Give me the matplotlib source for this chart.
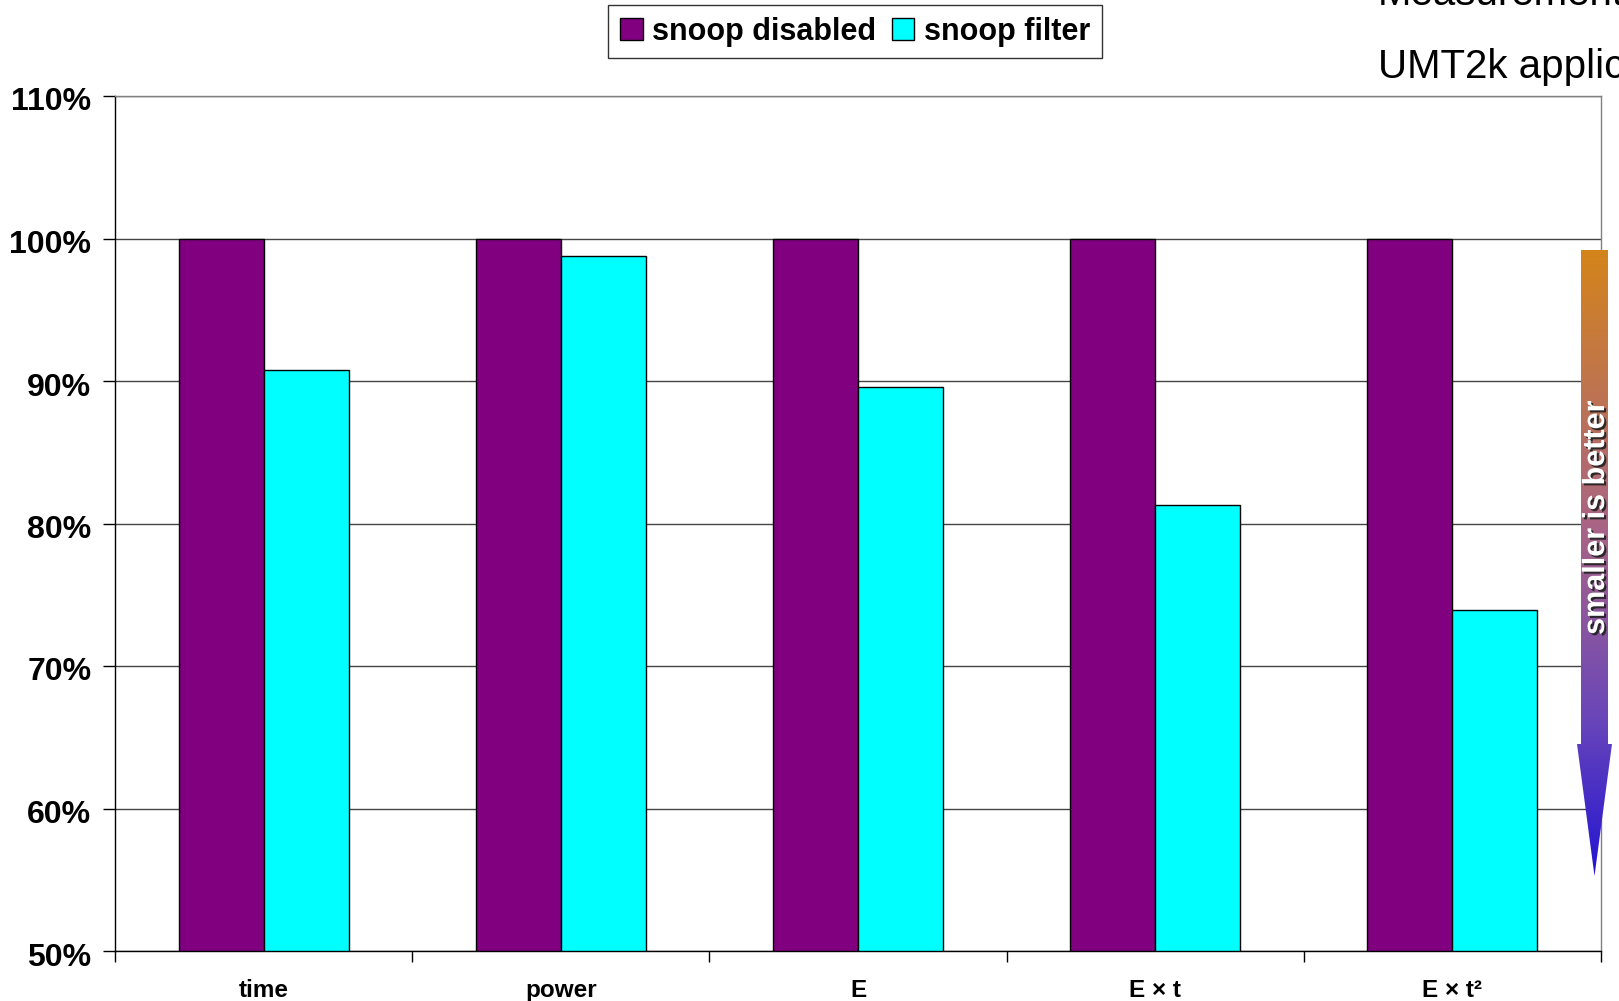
import numpy as np
import matplotlib
matplotlib.use("Agg")
import matplotlib.pyplot as plt
from matplotlib.patches import Polygon, Patch
from matplotlib.colors import LinearSegmentedColormap
import matplotlib.patheffects as pe
import matplotlib.transforms as mtransforms

plt.rcParams['font.family'] = ['Liberation Sans', 'DejaVu Sans']

# Data
categories = ["time", "power", "E", "E \u00d7 t", "E \u00d7 t\u00b2"]
snoop_disabled = [100.0, 100.0, 100.0, 100.0, 100.0]
snoop_filter = [90.8, 98.8, 89.6, 81.3, 73.9]
series_names = ["snoop disabled", "snoop filter"]
yticks = [50, 60, 70, 80, 90, 100, 110]

W, H = 1619, 1001
fig = plt.figure(figsize=(W / 100, H / 100), dpi=100)

ax_left, ax_right, ax_top, ax_bottom = 115, 1601, 96, 951
ax = fig.add_axes([ax_left / W, 1 - ax_bottom / H,
                   (ax_right - ax_left) / W, (ax_bottom - ax_top) / H])

x = np.arange(len(categories))
bw = 1 / 3.5
ax.bar(x - bw / 2, np.array(snoop_disabled) - 50, bw, bottom=50,
       color="#800080", edgecolor="black", linewidth=1.0, zorder=3)
ax.bar(x + bw / 2, np.array(snoop_filter) - 50, bw, bottom=50,
       color="#00FFFF", edgecolor="black", linewidth=1.0, zorder=3)

ax.set_xlim(-0.5, len(categories) - 0.5)
ax.set_ylim(50, 110)
ax.set_yticks(yticks)
ax.set_yticklabels([f"{v}%" for v in yticks], fontsize=23, fontweight="bold")
ax.tick_params(axis="y", direction="out", length=9, width=1, pad=8)
shift = mtransforms.ScaledTranslation(0, -3 / 100, fig.dpi_scale_trans)
for lbl in ax.get_yticklabels():
    lbl.set_transform(lbl.get_transform() + shift)

# Category boundaries carry the tick marks, centers carry the labels
ax.set_xticks(np.arange(-0.5, len(categories), 1.0))
ax.set_xticklabels([])
ax.tick_params(axis="x", which="major", direction="out", length=8, width=1)
ax.set_xticks(x, minor=True)
ax.set_xticklabels(categories, minor=True, fontsize=17.5, fontweight="bold")
ax.tick_params(axis="x", which="minor", length=0, pad=20)

ax.yaxis.grid(True, color="#444444", linewidth=1.0, zorder=0)
ax.set_axisbelow(True)
for s in ["top", "right"]:
    ax.spines[s].set_color("#808080")
    ax.spines[s].set_linewidth(1.0)
for s in ["left", "bottom"]:
    ax.spines[s].set_color("black")
    ax.spines[s].set_linewidth(1.0)

handles = [Patch(facecolor="#800080", edgecolor="black", linewidth=1.0),
           Patch(facecolor="#00FFFF", edgecolor="black", linewidth=1.0)]
leg = fig.legend(handles, series_names, loc="upper center",
                 bbox_to_anchor=(855 / W, 1 - 5 / H), ncol=2,
                 prop={"size": 22, "weight": "bold"}, frameon=True,
                 fancybox=False, shadow=False, handlelength=0.75,
                 handleheight=0.75, handletextpad=0.3, columnspacing=0.5,
                 borderpad=0.38, borderaxespad=0)
leg.get_frame().set_edgecolor("black")
leg.get_frame().set_linewidth(1.0)

# Header text running off the right edge
fig.text(1378 / W, 1 - 5 / H, "Measurements", fontsize=29,
         ha="left", va="baseline", color="black")
fig.text(1378 / W, 1 - 78 / H, "UMT2k application", fontsize=29,
         ha="left", va="baseline", color="black")

# Gradient arrow: "smaller is better"
arr_ax = fig.add_axes([0, 0, 1, 1], facecolor="none")
arr_ax.set_xlim(0, W)
arr_ax.set_ylim(H, 0)
arr_ax.axis("off")
shaft_l, shaft_r, top_y, head_y, tip_y = 1581, 1608, 250, 744, 876
head_l, head_r = 1577, 1612
tip_x = (shaft_l + shaft_r) / 2
verts = [(shaft_l, top_y), (shaft_r, top_y), (shaft_r, head_y),
         (head_r, head_y), (tip_x, tip_y), (head_l, head_y),
         (shaft_l, head_y)]
poly = Polygon(verts, closed=True, facecolor="none", edgecolor="none")
arr_ax.add_patch(poly)
cmap = LinearSegmentedColormap.from_list(
    "arrow", [(0.0, (212/255, 132/255, 26/255)),
              (0.45, (168/255, 100/255, 135/255)),
              (0.75, (105/255, 70/255, 185/255)),
              (1.0, (35/255, 20/255, 210/255))])
grad = np.linspace(0, 1, 256).reshape(-1, 1)
im = arr_ax.imshow(grad, cmap=cmap, aspect="auto",
                   extent=(head_l, head_r, tip_y, top_y), zorder=2)
im.set_clip_path(poly)
arr_ax.text(1596, 518, "smaller is better", rotation=90, fontsize=22,
            fontweight="bold", color="white", ha="center", va="center",
            zorder=3,
            path_effects=[pe.SimplePatchShadow(offset=(1.5, -1.5),
                                               shadow_rgbFace="#202020",
                                               alpha=0.9),
                          pe.Normal()])

fig.savefig("out.png", dpi=100)
